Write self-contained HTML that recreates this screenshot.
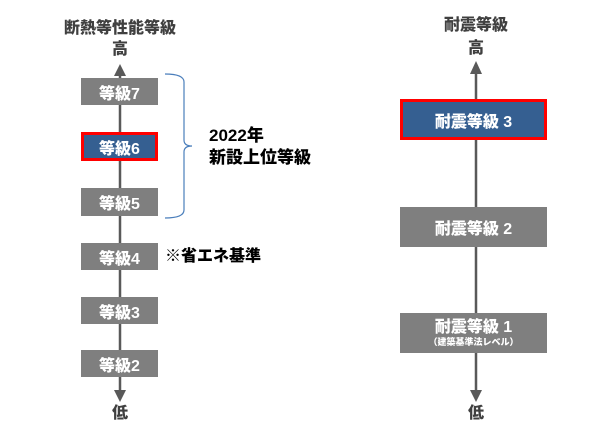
<!DOCTYPE html>
<html><head><meta charset="utf-8"><style>
body{margin:0;width:616px;height:434px;background:#fff;position:relative;overflow:hidden;font-family:"Liberation Sans","Noto Sans CJK JP",sans-serif;font-weight:900}
.t{position:absolute;color:#404040;font-size:16px;line-height:18px;white-space:nowrap;transform:translateX(-50%)}
.b{position:absolute;background:#7f7f7f;color:#fff;font-size:16px;display:flex;align-items:center;justify-content:center;box-sizing:border-box;flex-direction:column}
.blue{background:#355f91;border:3px solid #f00}
.k{position:absolute;color:#000;font-size:16px;line-height:20px;white-space:nowrap}
</style></head><body>
<svg width="616" height="434" style="position:absolute;left:0;top:0">
<g stroke="#595959" stroke-width="2.5" fill="#595959">
<line x1="120" y1="74" x2="120" y2="392"/>
<polygon points="114,76 126,76 120,64" stroke="none"/>
<polygon points="114,390 126,390 120,402" stroke="none"/>
<line x1="476" y1="72" x2="476" y2="392"/>
<polygon points="470,74 482,74 476,61" stroke="none"/>
<polygon points="470,390 482,390 476,402" stroke="none"/>
</g>
<path d="M165,74 Q184,74 184,82 L184,140 Q184,146 192,146 Q184,146 184,152 L184,210 Q184,218 165,218" fill="none" stroke="#4a7ebb" stroke-width="1.2"/>
</svg>
<div class="t" style="left:120px;top:20px">断熱等性能等級</div>
<div class="t" style="left:120px;top:41px">高</div>
<div class="t" style="left:120px;top:405px">低</div>
<div class="t" style="left:476px;top:17px">耐震等級</div>
<div class="t" style="left:476px;top:40px">高</div>
<div class="t" style="left:476px;top:405px">低</div>
<div class="b" style="left:81px;top:78px;width:77px;height:27px">等級7</div>
<div class="b blue" style="left:81px;top:132px;width:77px;height:29px">等級6</div>
<div class="b" style="left:81px;top:188px;width:77px;height:28px">等級5</div>
<div class="b" style="left:81px;top:243px;width:77px;height:27px">等級4</div>
<div class="b" style="left:81px;top:297px;width:77px;height:27px">等級3</div>
<div class="b" style="left:81px;top:350px;width:77px;height:27px">等級2</div>
<div class="k" style="left:209px;top:125px;font-size:17px;line-height:22px">2022年<br>新設上位等級</div>
<div class="k" style="left:165px;top:247px">※省エネ基準</div>
<div class="b blue" style="left:400px;top:99px;width:147px;height:41px">耐震等級 3</div>
<div class="b" style="left:400px;top:207px;width:147px;height:40px">耐震等級 2</div>
<div class="b" style="left:400px;top:313px;width:147px;height:40px;line-height:18px">耐震等級 1<span style="font-size:9px;line-height:11px">（建築基準法レベル）</span></div>
</body></html>
